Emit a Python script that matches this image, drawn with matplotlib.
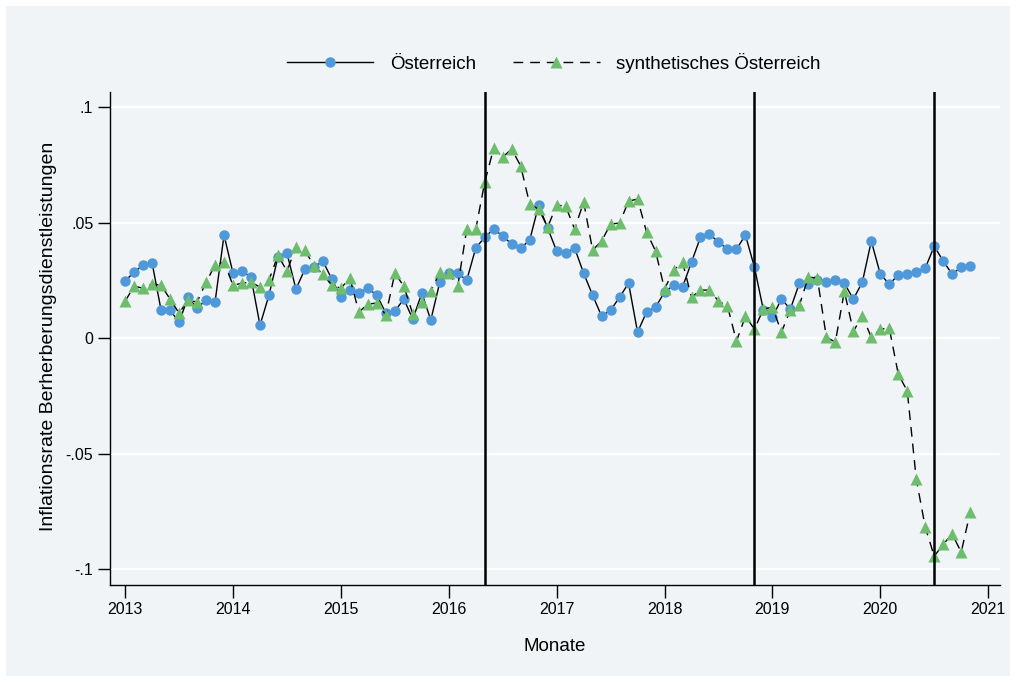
import numpy as np
import matplotlib
matplotlib.use("Agg")
import matplotlib.pyplot as plt
from matplotlib.lines import Line2D
from matplotlib.patches import Rectangle

plt.rcParams['font.family'] = ['Liberation Sans', 'DejaVu Sans']

# monthly series, Jan 2013 .. Nov 2020
start_year = 2013
oesterreich = [
    0.0247, 0.0286, 0.0316, 0.0325, 0.0121, 0.0121, 0.0069, 0.0177, 0.0130, 0.0165, 0.0156, 0.0446,
    0.0281, 0.0290, 0.0264, 0.0056, 0.0186, 0.0351, 0.0368, 0.0212, 0.0299, 0.0307, 0.0333, 0.0255,
    0.0177, 0.0208, 0.0195, 0.0216, 0.0186, 0.0108, 0.0117, 0.0169, 0.0082, 0.0195, 0.0078, 0.0242,
    0.0281, 0.0281, 0.0251, 0.0390, 0.0437, 0.0472, 0.0442, 0.0407, 0.0390, 0.0424, 0.0576, 0.0476,
    0.0377, 0.0368, 0.0390, 0.0281, 0.0186, 0.0095, 0.0121, 0.0177, 0.0238, 0.0026, 0.0113, 0.0134,
    0.0199, 0.0229, 0.0221, 0.0329, 0.0437, 0.0450, 0.0416, 0.0385, 0.0385, 0.0446, 0.0307, 0.0121,
    0.0091, 0.0169, 0.0126, 0.0238, 0.0234, 0.0251, 0.0242, 0.0251, 0.0238, 0.0169, 0.0242, 0.0420,
    0.0277, 0.0234, 0.0273, 0.0277, 0.0286, 0.0303, 0.0398, 0.0333, 0.0277, 0.0307, 0.0312,
]
synthetisch = [
    0.0160, 0.0225, 0.0216, 0.0234, 0.0229, 0.0169, 0.0108, 0.0165, 0.0156, 0.0242, 0.0316, 0.0329,
    0.0229, 0.0238, 0.0242, 0.0221, 0.0251, 0.0359, 0.0290, 0.0394, 0.0381, 0.0312, 0.0277, 0.0229,
    0.0216, 0.0260, 0.0113, 0.0147, 0.0152, 0.0100, 0.0281, 0.0225, 0.0104, 0.0156, 0.0203, 0.0286,
    0.0281, 0.0225, 0.0472, 0.0472, 0.0675, 0.0823, 0.0784, 0.0818, 0.0745, 0.0580, 0.0558, 0.0481,
    0.0576, 0.0571, 0.0472, 0.0589, 0.0381, 0.0420, 0.0494, 0.0498, 0.0593, 0.0602, 0.0459, 0.0377,
    0.0212, 0.0294, 0.0329, 0.0177, 0.0208, 0.0208, 0.0160, 0.0139, -0.0013, 0.0095, 0.0039, 0.0126,
    0.0134, 0.0026, 0.0121, 0.0143, 0.0264, 0.0260, 0.0004, -0.0017, 0.0203, 0.0030, 0.0095, 0.0004,
    0.0039, 0.0043, -0.0156, -0.0229, -0.0610, -0.0818, -0.0944, -0.0892, -0.0848, -0.0926, -0.0753,
]
# event months (year, month)
events = [(2016, 5), (2018, 11), (2020, 7)]
xticks = list(range(2013, 2022))
yticks = [0.1, 0.05, 0, -0.05, -0.1]
yticklabels = ['.1', '.05', '0', '-.05', '-.1']

bg = '#f0f4f7'
blue = '#4f98d9'
green = '#6dbd6d'
dash = (0, (7, 5))

x = start_year + np.arange(len(oesterreich)) / 12.0

fig = plt.figure(figsize=(10.16, 6.82), dpi=100)
fig.patch.set_facecolor('white')
fig.patches.append(Rectangle((6 / 1016, 6 / 682), 1 - 12 / 1016, 1 - 12 / 682,
                             transform=fig.transFigure, facecolor=bg, edgecolor='none', zorder=-10))
ax = fig.add_axes([0.1083, 0.142, 0.876, 0.723])
ax.set_facecolor(bg)

for yv in yticks:
    ax.axhline(yv, color='white', lw=1.6, zorder=0)

ax.plot(x, oesterreich, color='black', lw=1.0, marker='o', ms=7.5,
        mfc=blue, mec='none', zorder=3)
ax.plot(x, synthetisch, color='black', lw=1.0, ls=dash, marker='^', ms=9,
        mfc=green, mec='none', zorder=4)

for yr, mo in events:
    ax.axvline(yr + (mo - 1) / 12.0, color='black', lw=1.8, zorder=5)

ax.set_xlim(2012.86, 2021.11)
ax.set_ylim(-0.1069, 0.1065)
ax.set_xticks(xticks)
ax.set_xticklabels([str(t) for t in xticks], fontsize=11.5)
ax.set_yticks(yticks)
ax.set_yticklabels(yticklabels, fontsize=11.5)
ax.tick_params(axis='both', direction='out', length=9, width=1, color='black', pad=3)
for s in ['top', 'right']:
    ax.spines[s].set_visible(False)
for s in ['left', 'bottom']:
    ax.spines[s].set_linewidth(1.0)

ax.set_xlabel('Monate', fontsize=13.5)
ax.xaxis.set_label_coords(0.5, -0.108)
ax.set_ylabel('Inflationsrate Berherberungsdienstleistungen', fontsize=14)
ax.yaxis.set_label_coords(-0.060, 0.505)

handles = [
    Line2D([], [], color='black', lw=1.0, marker='o', ms=7.5, mfc=blue, mec='none'),
    Line2D([], [], color='black', lw=1.0, ls=dash, marker='^', ms=9, mfc=green, mec='none'),
]
fig.legend(handles, ['Österreich', 'synthetisches Österreich'], loc='center',
           bbox_to_anchor=(0.545, 0.908), ncol=2, frameon=False, fontsize=13.5,
           handlelength=4.6, columnspacing=2.0, handletextpad=0.9, numpoints=1)

fig.savefig('out.png', dpi=100, facecolor=fig.get_facecolor())
